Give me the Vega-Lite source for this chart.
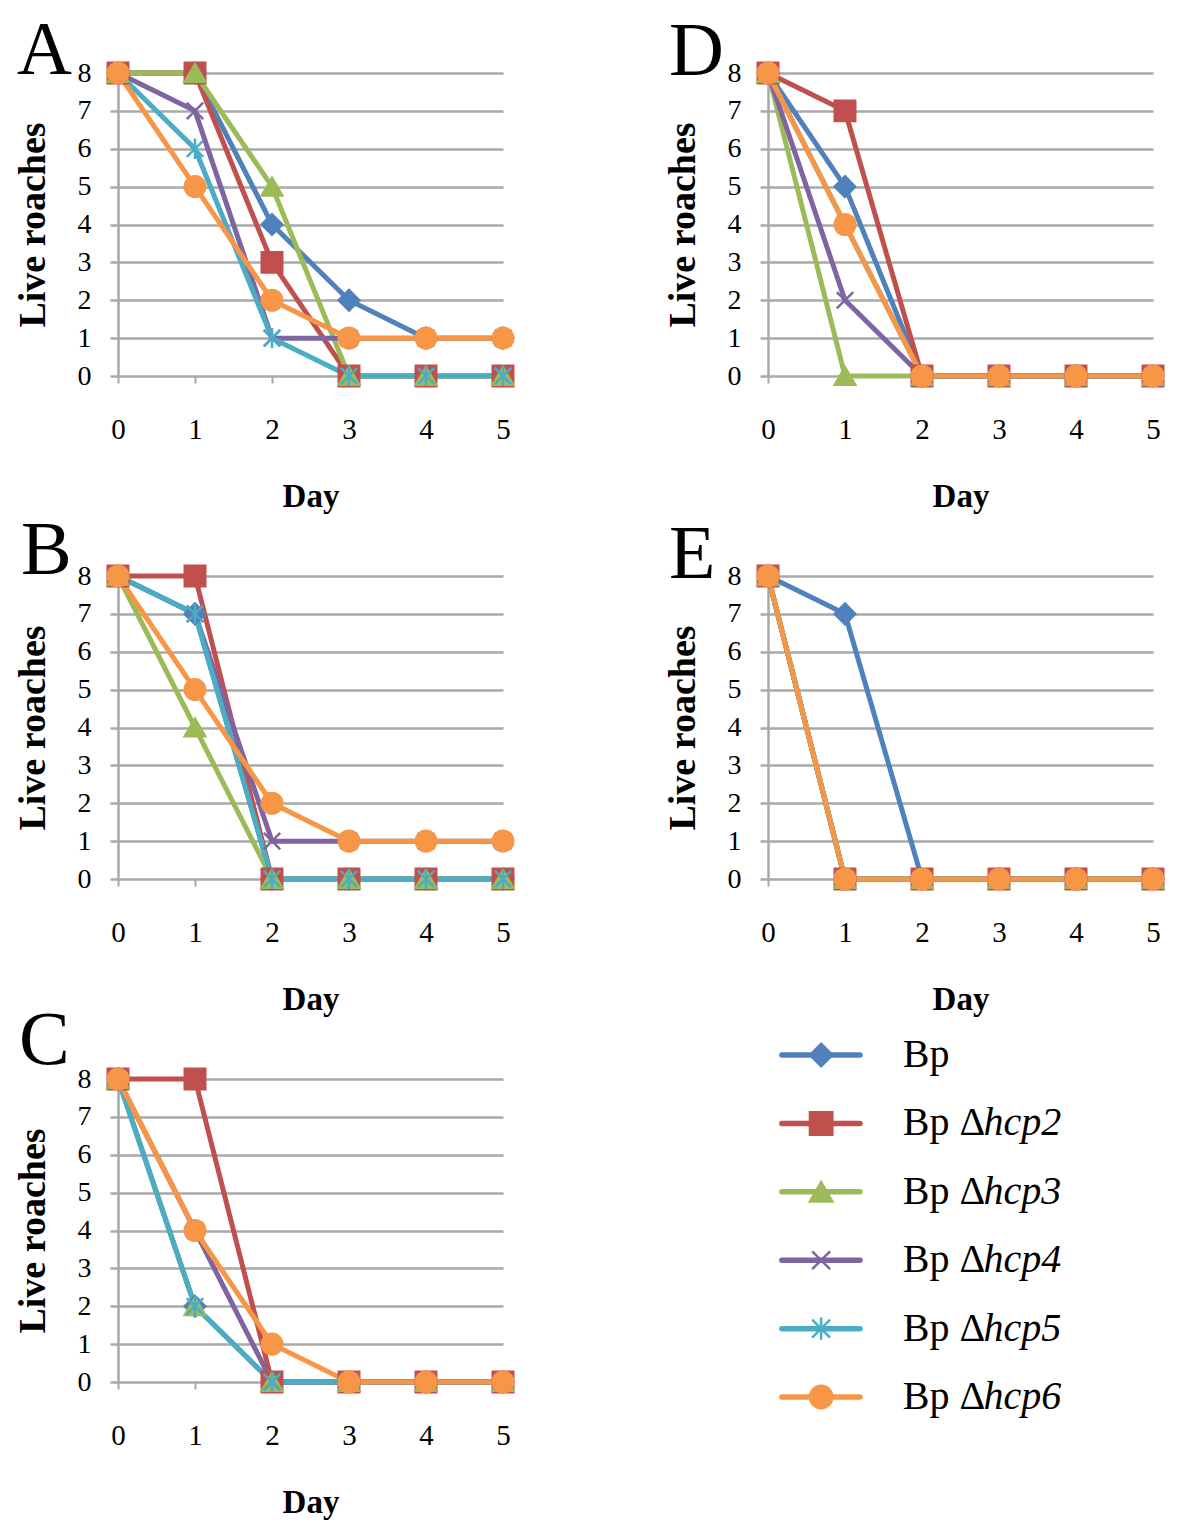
{
  "$schema": "https://vega.github.io/schema/vega-lite/v6.json",
  "padding": {"top": 12, "left": 14, "right": 5, "bottom": 5},
  "background": "white",
  "config": {
    "font": "Liberation Serif",
    "view": {"stroke": null},
    "title": {"anchor": "start", "frame": "group", "fontSize": 76, "fontWeight": "normal", "font": "Liberation Serif", "baseline": "alphabetic", "offset": 0, "color": "#000000"},
    "axisX": {"grid": false, "domain": false, "tickColor": "#A6A6A6", "tickSize": 7, "tickWidth": 2, "labelFontSize": 29, "labelPadding": 32, "labelColor": "#000000", "labelFont": "Liberation Serif", "labelFlush": false, "labelOverlap": false, "labelBound": false, "titleFontSize": 33, "titleFontWeight": "bold", "titleColor": "#000000", "titleFont": "Liberation Serif", "titlePadding": 36},
    "axisY": {"grid": true, "gridColor": "#A9A9A9", "gridWidth": 2.5, "domain": true, "domainColor": "#A9A9A9", "domainWidth": 2.5, "tickColor": "#A9A9A9", "tickSize": 8, "tickWidth": 2.5, "labelFontSize": 28, "labelPadding": 19, "labelColor": "#000000", "labelFont": "Liberation Serif", "labelFlush": false, "labelOverlap": false, "labelBound": false, "titleFontSize": 38, "titleFontWeight": "bold", "titleColor": "#000000", "titleFont": "Liberation Serif", "titlePadding": 25}
  },
  "datasets": {
    "survival": [
      {"panel":"A","series":"Bp","day":0,"live":8},{"panel":"A","series":"Bp","day":1,"live":8},{"panel":"A","series":"Bp","day":2,"live":4},{"panel":"A","series":"Bp","day":3,"live":2},{"panel":"A","series":"Bp","day":4,"live":1},{"panel":"A","series":"Bp","day":5,"live":1},
      {"panel":"A","series":"Bp Δhcp2","day":0,"live":8},{"panel":"A","series":"Bp Δhcp2","day":1,"live":8},{"panel":"A","series":"Bp Δhcp2","day":2,"live":3},{"panel":"A","series":"Bp Δhcp2","day":3,"live":0},{"panel":"A","series":"Bp Δhcp2","day":4,"live":0},{"panel":"A","series":"Bp Δhcp2","day":5,"live":0},
      {"panel":"A","series":"Bp Δhcp3","day":0,"live":8},{"panel":"A","series":"Bp Δhcp3","day":1,"live":8},{"panel":"A","series":"Bp Δhcp3","day":2,"live":5},{"panel":"A","series":"Bp Δhcp3","day":3,"live":0},{"panel":"A","series":"Bp Δhcp3","day":4,"live":0},{"panel":"A","series":"Bp Δhcp3","day":5,"live":0},
      {"panel":"A","series":"Bp Δhcp4","day":0,"live":8},{"panel":"A","series":"Bp Δhcp4","day":1,"live":7},{"panel":"A","series":"Bp Δhcp4","day":2,"live":1},{"panel":"A","series":"Bp Δhcp4","day":3,"live":1},{"panel":"A","series":"Bp Δhcp4","day":4,"live":1},{"panel":"A","series":"Bp Δhcp4","day":5,"live":1},
      {"panel":"A","series":"Bp Δhcp5","day":0,"live":8},{"panel":"A","series":"Bp Δhcp5","day":1,"live":6},{"panel":"A","series":"Bp Δhcp5","day":2,"live":1},{"panel":"A","series":"Bp Δhcp5","day":3,"live":0},{"panel":"A","series":"Bp Δhcp5","day":4,"live":0},{"panel":"A","series":"Bp Δhcp5","day":5,"live":0},
      {"panel":"A","series":"Bp Δhcp6","day":0,"live":8},{"panel":"A","series":"Bp Δhcp6","day":1,"live":5},{"panel":"A","series":"Bp Δhcp6","day":2,"live":2},{"panel":"A","series":"Bp Δhcp6","day":3,"live":1},{"panel":"A","series":"Bp Δhcp6","day":4,"live":1},{"panel":"A","series":"Bp Δhcp6","day":5,"live":1},

      {"panel":"B","series":"Bp","day":0,"live":8},{"panel":"B","series":"Bp","day":1,"live":7},{"panel":"B","series":"Bp","day":2,"live":0},{"panel":"B","series":"Bp","day":3,"live":0},{"panel":"B","series":"Bp","day":4,"live":0},{"panel":"B","series":"Bp","day":5,"live":0},
      {"panel":"B","series":"Bp Δhcp2","day":0,"live":8},{"panel":"B","series":"Bp Δhcp2","day":1,"live":8},{"panel":"B","series":"Bp Δhcp2","day":2,"live":0},{"panel":"B","series":"Bp Δhcp2","day":3,"live":0},{"panel":"B","series":"Bp Δhcp2","day":4,"live":0},{"panel":"B","series":"Bp Δhcp2","day":5,"live":0},
      {"panel":"B","series":"Bp Δhcp3","day":0,"live":8},{"panel":"B","series":"Bp Δhcp3","day":1,"live":4},{"panel":"B","series":"Bp Δhcp3","day":2,"live":0},{"panel":"B","series":"Bp Δhcp3","day":3,"live":0},{"panel":"B","series":"Bp Δhcp3","day":4,"live":0},{"panel":"B","series":"Bp Δhcp3","day":5,"live":0},
      {"panel":"B","series":"Bp Δhcp4","day":0,"live":8},{"panel":"B","series":"Bp Δhcp4","day":1,"live":7},{"panel":"B","series":"Bp Δhcp4","day":2,"live":1},{"panel":"B","series":"Bp Δhcp4","day":3,"live":1},{"panel":"B","series":"Bp Δhcp4","day":4,"live":1},{"panel":"B","series":"Bp Δhcp4","day":5,"live":1},
      {"panel":"B","series":"Bp Δhcp5","day":0,"live":8},{"panel":"B","series":"Bp Δhcp5","day":1,"live":7},{"panel":"B","series":"Bp Δhcp5","day":2,"live":0},{"panel":"B","series":"Bp Δhcp5","day":3,"live":0},{"panel":"B","series":"Bp Δhcp5","day":4,"live":0},{"panel":"B","series":"Bp Δhcp5","day":5,"live":0},
      {"panel":"B","series":"Bp Δhcp6","day":0,"live":8},{"panel":"B","series":"Bp Δhcp6","day":1,"live":5},{"panel":"B","series":"Bp Δhcp6","day":2,"live":2},{"panel":"B","series":"Bp Δhcp6","day":3,"live":1},{"panel":"B","series":"Bp Δhcp6","day":4,"live":1},{"panel":"B","series":"Bp Δhcp6","day":5,"live":1},

      {"panel":"C","series":"Bp","day":0,"live":8},{"panel":"C","series":"Bp","day":1,"live":2},{"panel":"C","series":"Bp","day":2,"live":0},{"panel":"C","series":"Bp","day":3,"live":0},{"panel":"C","series":"Bp","day":4,"live":0},{"panel":"C","series":"Bp","day":5,"live":0},
      {"panel":"C","series":"Bp Δhcp2","day":0,"live":8},{"panel":"C","series":"Bp Δhcp2","day":1,"live":8},{"panel":"C","series":"Bp Δhcp2","day":2,"live":0},{"panel":"C","series":"Bp Δhcp2","day":3,"live":0},{"panel":"C","series":"Bp Δhcp2","day":4,"live":0},{"panel":"C","series":"Bp Δhcp2","day":5,"live":0},
      {"panel":"C","series":"Bp Δhcp3","day":0,"live":8},{"panel":"C","series":"Bp Δhcp3","day":1,"live":2},{"panel":"C","series":"Bp Δhcp3","day":2,"live":0},{"panel":"C","series":"Bp Δhcp3","day":3,"live":0},{"panel":"C","series":"Bp Δhcp3","day":4,"live":0},{"panel":"C","series":"Bp Δhcp3","day":5,"live":0},
      {"panel":"C","series":"Bp Δhcp4","day":0,"live":8},{"panel":"C","series":"Bp Δhcp4","day":1,"live":4},{"panel":"C","series":"Bp Δhcp4","day":2,"live":0},{"panel":"C","series":"Bp Δhcp4","day":3,"live":0},{"panel":"C","series":"Bp Δhcp4","day":4,"live":0},{"panel":"C","series":"Bp Δhcp4","day":5,"live":0},
      {"panel":"C","series":"Bp Δhcp5","day":0,"live":8},{"panel":"C","series":"Bp Δhcp5","day":1,"live":2},{"panel":"C","series":"Bp Δhcp5","day":2,"live":0},{"panel":"C","series":"Bp Δhcp5","day":3,"live":0},{"panel":"C","series":"Bp Δhcp5","day":4,"live":0},{"panel":"C","series":"Bp Δhcp5","day":5,"live":0},
      {"panel":"C","series":"Bp Δhcp6","day":0,"live":8},{"panel":"C","series":"Bp Δhcp6","day":1,"live":4},{"panel":"C","series":"Bp Δhcp6","day":2,"live":1},{"panel":"C","series":"Bp Δhcp6","day":3,"live":0},{"panel":"C","series":"Bp Δhcp6","day":4,"live":0},{"panel":"C","series":"Bp Δhcp6","day":5,"live":0},

      {"panel":"D","series":"Bp","day":0,"live":8},{"panel":"D","series":"Bp","day":1,"live":5},{"panel":"D","series":"Bp","day":2,"live":0},{"panel":"D","series":"Bp","day":3,"live":0},{"panel":"D","series":"Bp","day":4,"live":0},{"panel":"D","series":"Bp","day":5,"live":0},
      {"panel":"D","series":"Bp Δhcp2","day":0,"live":8},{"panel":"D","series":"Bp Δhcp2","day":1,"live":7},{"panel":"D","series":"Bp Δhcp2","day":2,"live":0},{"panel":"D","series":"Bp Δhcp2","day":3,"live":0},{"panel":"D","series":"Bp Δhcp2","day":4,"live":0},{"panel":"D","series":"Bp Δhcp2","day":5,"live":0},
      {"panel":"D","series":"Bp Δhcp3","day":0,"live":8},{"panel":"D","series":"Bp Δhcp3","day":1,"live":0},{"panel":"D","series":"Bp Δhcp3","day":2,"live":0},{"panel":"D","series":"Bp Δhcp3","day":3,"live":0},{"panel":"D","series":"Bp Δhcp3","day":4,"live":0},{"panel":"D","series":"Bp Δhcp3","day":5,"live":0},
      {"panel":"D","series":"Bp Δhcp4","day":0,"live":8},{"panel":"D","series":"Bp Δhcp4","day":1,"live":2},{"panel":"D","series":"Bp Δhcp4","day":2,"live":0},{"panel":"D","series":"Bp Δhcp4","day":3,"live":0},{"panel":"D","series":"Bp Δhcp4","day":4,"live":0},{"panel":"D","series":"Bp Δhcp4","day":5,"live":0},
      {"panel":"D","series":"Bp Δhcp5","day":0,"live":8},{"panel":"D","series":"Bp Δhcp5","day":1,"live":4},{"panel":"D","series":"Bp Δhcp5","day":2,"live":0},{"panel":"D","series":"Bp Δhcp5","day":3,"live":0},{"panel":"D","series":"Bp Δhcp5","day":4,"live":0},{"panel":"D","series":"Bp Δhcp5","day":5,"live":0},
      {"panel":"D","series":"Bp Δhcp6","day":0,"live":8},{"panel":"D","series":"Bp Δhcp6","day":1,"live":4},{"panel":"D","series":"Bp Δhcp6","day":2,"live":0},{"panel":"D","series":"Bp Δhcp6","day":3,"live":0},{"panel":"D","series":"Bp Δhcp6","day":4,"live":0},{"panel":"D","series":"Bp Δhcp6","day":5,"live":0},

      {"panel":"E","series":"Bp","day":0,"live":8},{"panel":"E","series":"Bp","day":1,"live":7},{"panel":"E","series":"Bp","day":2,"live":0},{"panel":"E","series":"Bp","day":3,"live":0},{"panel":"E","series":"Bp","day":4,"live":0},{"panel":"E","series":"Bp","day":5,"live":0},
      {"panel":"E","series":"Bp Δhcp2","day":0,"live":8},{"panel":"E","series":"Bp Δhcp2","day":1,"live":0},{"panel":"E","series":"Bp Δhcp2","day":2,"live":0},{"panel":"E","series":"Bp Δhcp2","day":3,"live":0},{"panel":"E","series":"Bp Δhcp2","day":4,"live":0},{"panel":"E","series":"Bp Δhcp2","day":5,"live":0},
      {"panel":"E","series":"Bp Δhcp3","day":0,"live":8},{"panel":"E","series":"Bp Δhcp3","day":1,"live":0},{"panel":"E","series":"Bp Δhcp3","day":2,"live":0},{"panel":"E","series":"Bp Δhcp3","day":3,"live":0},{"panel":"E","series":"Bp Δhcp3","day":4,"live":0},{"panel":"E","series":"Bp Δhcp3","day":5,"live":0},
      {"panel":"E","series":"Bp Δhcp4","day":0,"live":8},{"panel":"E","series":"Bp Δhcp4","day":1,"live":0},{"panel":"E","series":"Bp Δhcp4","day":2,"live":0},{"panel":"E","series":"Bp Δhcp4","day":3,"live":0},{"panel":"E","series":"Bp Δhcp4","day":4,"live":0},{"panel":"E","series":"Bp Δhcp4","day":5,"live":0},
      {"panel":"E","series":"Bp Δhcp5","day":0,"live":8},{"panel":"E","series":"Bp Δhcp5","day":1,"live":0},{"panel":"E","series":"Bp Δhcp5","day":2,"live":0},{"panel":"E","series":"Bp Δhcp5","day":3,"live":0},{"panel":"E","series":"Bp Δhcp5","day":4,"live":0},{"panel":"E","series":"Bp Δhcp5","day":5,"live":0},
      {"panel":"E","series":"Bp Δhcp6","day":0,"live":8},{"panel":"E","series":"Bp Δhcp6","day":1,"live":0},{"panel":"E","series":"Bp Δhcp6","day":2,"live":0},{"panel":"E","series":"Bp Δhcp6","day":3,"live":0},{"panel":"E","series":"Bp Δhcp6","day":4,"live":0},{"panel":"E","series":"Bp Δhcp6","day":5,"live":0}
    ],
    "legend": [
      {"series":"Bp","plain":"Bp","ital":"","i":0},
      {"series":"Bp Δhcp2","plain":"Bp Δ","ital":"hcp2","i":1},
      {"series":"Bp Δhcp3","plain":"Bp Δ","ital":"hcp3","i":2},
      {"series":"Bp Δhcp4","plain":"Bp Δ","ital":"hcp4","i":3},
      {"series":"Bp Δhcp5","plain":"Bp Δ","ital":"hcp5","i":4},
      {"series":"Bp Δhcp6","plain":"Bp Δ","ital":"hcp6","i":5}
    ]
  },
  "columns": 2,
  "spacing": {"row": 200, "column": 265},
  "bounds": "flush",
  "concat": [
    {
      "width": 385, "height": 303,
      "title": {"text": "A", "dx": -101, "dy": 36},
      "data": {"name": "survival"},
      "transform": [{"filter": "datum.panel === 'A'"}],
      "encoding": {
        "x": {"field": "day", "type": "quantitative", "scale": {"domain": [0, 5]}, "axis": {"values": [0,1,2,3,4,5], "title": "Day"}},
        "y": {"field": "live", "type": "quantitative", "scale": {"domain": [0, 8]}, "axis": {"values": [0,1,2,3,4,5,6,7,8], "title": "Live roaches"}},
        "color": {"field": "series", "type": "nominal", "scale": {"domain": ["Bp","Bp Δhcp2","Bp Δhcp3","Bp Δhcp4","Bp Δhcp5","Bp Δhcp6"], "range": ["#4F81BD","#C0504D","#9BBB59","#8064A2","#4BACC6","#F79646"]}, "legend": null}
      },
      "layer": [
        {"mark": {"type": "line", "strokeWidth": 5}},
        {"mark": {"type": "point", "filled": true, "size": 420, "opacity": 1, "strokeWidth": 2.5},
         "encoding": {
           "shape": {"field": "series", "type": "nominal", "scale": {"domain": ["Bp","Bp Δhcp2","Bp Δhcp3","Bp Δhcp4","Bp Δhcp5","Bp Δhcp6"], "range": ["diamond","square","triangle-up","M-0.8,-0.8L0.8,0.8M-0.8,0.8L0.8,-0.8","M-0.8,-0.8L0.8,0.8M-0.8,0.8L0.8,-0.8M0,-1L0,1","circle"]}, "legend": null},
           "stroke": {"field": "series", "type": "nominal", "scale": {"domain": ["Bp","Bp Δhcp2","Bp Δhcp3","Bp Δhcp4","Bp Δhcp5","Bp Δhcp6"], "range": ["#4F81BD","#C0504D","#9BBB59","#8064A2","#4BACC6","#F79646"]}, "legend": null}
         }}
      ]
    },
    {
      "width": 385, "height": 303,
      "title": {"text": "D", "dx": -99, "dy": 37},
      "data": {"name": "survival"},
      "transform": [{"filter": "datum.panel === 'D'"}],
      "encoding": {
        "x": {"field": "day", "type": "quantitative", "scale": {"domain": [0, 5]}, "axis": {"values": [0,1,2,3,4,5], "title": "Day"}},
        "y": {"field": "live", "type": "quantitative", "scale": {"domain": [0, 8]}, "axis": {"values": [0,1,2,3,4,5,6,7,8], "title": "Live roaches"}},
        "color": {"field": "series", "type": "nominal", "scale": {"domain": ["Bp","Bp Δhcp2","Bp Δhcp3","Bp Δhcp4","Bp Δhcp5","Bp Δhcp6"], "range": ["#4F81BD","#C0504D","#9BBB59","#8064A2","#4BACC6","#F79646"]}, "legend": null}
      },
      "layer": [
        {"mark": {"type": "line", "strokeWidth": 5}},
        {"mark": {"type": "point", "filled": true, "size": 420, "opacity": 1, "strokeWidth": 2.5},
         "encoding": {
           "shape": {"field": "series", "type": "nominal", "scale": {"domain": ["Bp","Bp Δhcp2","Bp Δhcp3","Bp Δhcp4","Bp Δhcp5","Bp Δhcp6"], "range": ["diamond","square","triangle-up","M-0.8,-0.8L0.8,0.8M-0.8,0.8L0.8,-0.8","M-0.8,-0.8L0.8,0.8M-0.8,0.8L0.8,-0.8M0,-1L0,1","circle"]}, "legend": null},
           "stroke": {"field": "series", "type": "nominal", "scale": {"domain": ["Bp","Bp Δhcp2","Bp Δhcp3","Bp Δhcp4","Bp Δhcp5","Bp Δhcp6"], "range": ["#4F81BD","#C0504D","#9BBB59","#8064A2","#4BACC6","#F79646"]}, "legend": null}
         }}
      ]
    },
    {
      "width": 385, "height": 303,
      "title": {"text": "B", "dx": -97, "dy": 33},
      "data": {"name": "survival"},
      "transform": [{"filter": "datum.panel === 'B'"}],
      "encoding": {
        "x": {"field": "day", "type": "quantitative", "scale": {"domain": [0, 5]}, "axis": {"values": [0,1,2,3,4,5], "title": "Day"}},
        "y": {"field": "live", "type": "quantitative", "scale": {"domain": [0, 8]}, "axis": {"values": [0,1,2,3,4,5,6,7,8], "title": "Live roaches"}},
        "color": {"field": "series", "type": "nominal", "scale": {"domain": ["Bp","Bp Δhcp2","Bp Δhcp3","Bp Δhcp4","Bp Δhcp5","Bp Δhcp6"], "range": ["#4F81BD","#C0504D","#9BBB59","#8064A2","#4BACC6","#F79646"]}, "legend": null}
      },
      "layer": [
        {"mark": {"type": "line", "strokeWidth": 5}},
        {"mark": {"type": "point", "filled": true, "size": 420, "opacity": 1, "strokeWidth": 2.5},
         "encoding": {
           "shape": {"field": "series", "type": "nominal", "scale": {"domain": ["Bp","Bp Δhcp2","Bp Δhcp3","Bp Δhcp4","Bp Δhcp5","Bp Δhcp6"], "range": ["diamond","square","triangle-up","M-0.8,-0.8L0.8,0.8M-0.8,0.8L0.8,-0.8","M-0.8,-0.8L0.8,0.8M-0.8,0.8L0.8,-0.8M0,-1L0,1","circle"]}, "legend": null},
           "stroke": {"field": "series", "type": "nominal", "scale": {"domain": ["Bp","Bp Δhcp2","Bp Δhcp3","Bp Δhcp4","Bp Δhcp5","Bp Δhcp6"], "range": ["#4F81BD","#C0504D","#9BBB59","#8064A2","#4BACC6","#F79646"]}, "legend": null}
         }}
      ]
    },
    {
      "width": 385, "height": 303,
      "title": {"text": "E", "dx": -99, "dy": 37},
      "data": {"name": "survival"},
      "transform": [{"filter": "datum.panel === 'E'"}],
      "encoding": {
        "x": {"field": "day", "type": "quantitative", "scale": {"domain": [0, 5]}, "axis": {"values": [0,1,2,3,4,5], "title": "Day"}},
        "y": {"field": "live", "type": "quantitative", "scale": {"domain": [0, 8]}, "axis": {"values": [0,1,2,3,4,5,6,7,8], "title": "Live roaches"}},
        "color": {"field": "series", "type": "nominal", "scale": {"domain": ["Bp","Bp Δhcp2","Bp Δhcp3","Bp Δhcp4","Bp Δhcp5","Bp Δhcp6"], "range": ["#4F81BD","#C0504D","#9BBB59","#8064A2","#4BACC6","#F79646"]}, "legend": null}
      },
      "layer": [
        {"mark": {"type": "line", "strokeWidth": 5}},
        {"mark": {"type": "point", "filled": true, "size": 420, "opacity": 1, "strokeWidth": 2.5},
         "encoding": {
           "shape": {"field": "series", "type": "nominal", "scale": {"domain": ["Bp","Bp Δhcp2","Bp Δhcp3","Bp Δhcp4","Bp Δhcp5","Bp Δhcp6"], "range": ["diamond","square","triangle-up","M-0.8,-0.8L0.8,0.8M-0.8,0.8L0.8,-0.8","M-0.8,-0.8L0.8,0.8M-0.8,0.8L0.8,-0.8M0,-1L0,1","circle"]}, "legend": null},
           "stroke": {"field": "series", "type": "nominal", "scale": {"domain": ["Bp","Bp Δhcp2","Bp Δhcp3","Bp Δhcp4","Bp Δhcp5","Bp Δhcp6"], "range": ["#4F81BD","#C0504D","#9BBB59","#8064A2","#4BACC6","#F79646"]}, "legend": null}
         }}
      ]
    },
    {
      "width": 385, "height": 303,
      "title": {"text": "C", "dx": -99, "dy": 20},
      "data": {"name": "survival"},
      "transform": [{"filter": "datum.panel === 'C'"}],
      "encoding": {
        "x": {"field": "day", "type": "quantitative", "scale": {"domain": [0, 5]}, "axis": {"values": [0,1,2,3,4,5], "title": "Day"}},
        "y": {"field": "live", "type": "quantitative", "scale": {"domain": [0, 8]}, "axis": {"values": [0,1,2,3,4,5,6,7,8], "title": "Live roaches"}},
        "color": {"field": "series", "type": "nominal", "scale": {"domain": ["Bp","Bp Δhcp2","Bp Δhcp3","Bp Δhcp4","Bp Δhcp5","Bp Δhcp6"], "range": ["#4F81BD","#C0504D","#9BBB59","#8064A2","#4BACC6","#F79646"]}, "legend": null}
      },
      "layer": [
        {"mark": {"type": "line", "strokeWidth": 5}},
        {"mark": {"type": "point", "filled": true, "size": 420, "opacity": 1, "strokeWidth": 2.5},
         "encoding": {
           "shape": {"field": "series", "type": "nominal", "scale": {"domain": ["Bp","Bp Δhcp2","Bp Δhcp3","Bp Δhcp4","Bp Δhcp5","Bp Δhcp6"], "range": ["diamond","square","triangle-up","M-0.8,-0.8L0.8,0.8M-0.8,0.8L0.8,-0.8","M-0.8,-0.8L0.8,0.8M-0.8,0.8L0.8,-0.8M0,-1L0,1","circle"]}, "legend": null},
           "stroke": {"field": "series", "type": "nominal", "scale": {"domain": ["Bp","Bp Δhcp2","Bp Δhcp3","Bp Δhcp4","Bp Δhcp5","Bp Δhcp6"], "range": ["#4F81BD","#C0504D","#9BBB59","#8064A2","#4BACC6","#F79646"]}, "legend": null}
         }}
      ]
    },
    {
      "width": 385, "height": 303,
      "data": {"name": "legend"},
      "encoding": {
        "y": {"field": "i", "type": "quantitative", "scale": {"domain": [0.35, 4.78], "reverse": true}, "axis": null}
      },
      "layer": [
        {"mark": {"type": "rule", "strokeWidth": 5.5, "strokeCap": "round"},
         "encoding": {
           "x": {"datum": 0.36, "type": "quantitative", "scale": {"domain": [0, 10]}, "axis": null},
           "x2": {"datum": 2.39},
           "color": {"field": "series", "type": "nominal", "scale": {"domain": ["Bp","Bp Δhcp2","Bp Δhcp3","Bp Δhcp4","Bp Δhcp5","Bp Δhcp6"], "range": ["#4F81BD","#C0504D","#9BBB59","#8064A2","#4BACC6","#F79646"]}, "legend": null}
         }},
        {"mark": {"type": "point", "filled": true, "size": 500, "opacity": 1, "strokeWidth": 2.5},
         "encoding": {
           "x": {"datum": 1.38, "type": "quantitative"},
           "color": {"field": "series", "type": "nominal", "legend": null},
           "shape": {"field": "series", "type": "nominal", "scale": {"domain": ["Bp","Bp Δhcp2","Bp Δhcp3","Bp Δhcp4","Bp Δhcp5","Bp Δhcp6"], "range": ["diamond","square","triangle-up","M-0.8,-0.8L0.8,0.8M-0.8,0.8L0.8,-0.8","M-0.8,-0.8L0.8,0.8M-0.8,0.8L0.8,-0.8M0,-1L0,1","circle"]}, "legend": null},
           "stroke": {"field": "series", "type": "nominal", "scale": {"domain": ["Bp","Bp Δhcp2","Bp Δhcp3","Bp Δhcp4","Bp Δhcp5","Bp Δhcp6"], "range": ["#4F81BD","#C0504D","#9BBB59","#8064A2","#4BACC6","#F79646"]}, "legend": null}
         }},
        {"mark": {"type": "text", "align": "left", "baseline": "middle", "fontSize": 40, "font": "Liberation Serif", "color": "#000000"},
         "encoding": {"x": {"datum": 3.5, "type": "quantitative"}, "text": {"field": "plain"}}},
        {"mark": {"type": "text", "align": "left", "baseline": "middle", "fontSize": 40, "fontStyle": "italic", "font": "Liberation Serif", "color": "#000000"},
         "encoding": {"x": {"datum": 5.6, "type": "quantitative"}, "text": {"field": "ital"}}}
      ]
    }
  ]
}
